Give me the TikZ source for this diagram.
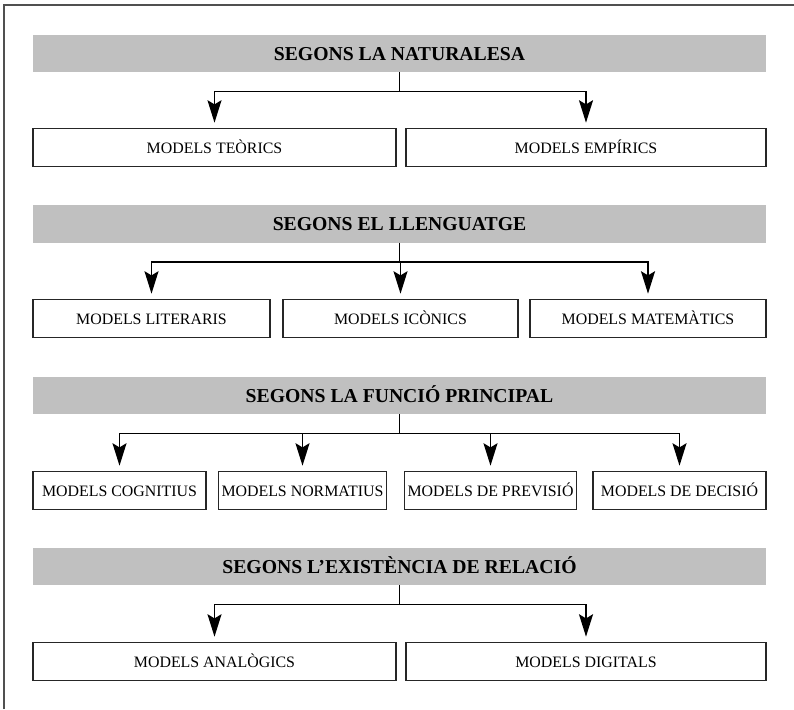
\documentclass[tikz,border=0pt]{standalone}
\usepackage{fontspec}
\setmainfont{Liberation Serif}
\usepackage{xcolor}
\usepackage{tikz}
\usetikzlibrary{arrows.meta, positioning}
\definecolor{headgray}{RGB}{192,192,192}
\definecolor{framegray}{RGB}{80,80,80}
\tikzset{
    header/.style={rectangle, fill=headgray, minimum width=18.325cm, minimum height=0.93cm, text height=1.2em, text depth=0.25em, font=\fontsize{14}{16}\selectfont\bfseries},
    model/.style={rectangle, draw=black!85, line width=0.8pt, minimum height=0.93cm, inner sep=2pt, text height=1.2em, text depth=0.3em, font=\fontsize{11.3}{13}\selectfont},
    link/.style={-{Stealth[length=16pt, width=10pt, inset=3pt]}, line width=1pt, shorten >=4pt}
}

\begin{document}
\begin{tikzpicture}[x=0.025cm, y=0.025cm]
            \useasboundingbox (0,0) rectangle (794,709);
            \draw[framegray, line width=1.4pt] (4,0) -- (4,704) -- (794,704);

            % segons la naturalesa
            \node (nat) [header] at (399.5,655.5) {SEGONS LA NATURALESA};
            \node (teo) [model, minimum width=9.075cm] at (214.5,561.5) {MODELS TEÒRICS};
            \node (emp) [model, minimum width=9cm] at (586,561.5) {MODELS EMPÍRICS};
            \draw[link] (nat.south) -- ++(0,-19) -| (teo.north);
            \draw[link] (nat.south) -- ++(0,-19) -| (emp.north);

            % segons el llenguatge
            \node (llen) [header] at (399.5,485) {SEGONS EL LLENGUATGE};
            \node (lit) [model, minimum width=5.925cm] at (151.5,390.5) {MODELS LITERARIS};
            \node (ico) [model, minimum width=5.875cm] at (400.5,390.5) {MODELS ICÒNICS};
            \node (mat) [model, minimum width=5.9cm] at (648,390.5) {MODELS MATEMÀTICS};
            \draw[link] (llen.south) -- ++(0,-19) -| (lit.north);
            \draw[link] (llen.south) -- ++(0,-19) -| (ico.north);
            \draw[link] (llen.south) -- ++(0,-19) -| (mat.north);

            % segons la funcio principal
            \node (func) [header] at (399.5,313.5) {SEGONS LA FUNCIÓ PRINCIPAL};
            \node (cog) [model, minimum width=4.325cm] at (119.5,218.5) {MODELS COGNITIUS};
            \node (nor) [model, minimum width=4.125cm] at (302.5,218.5) {MODELS NORMATIUS};
            \node (prev) [model, minimum width=4.175cm] at (490.5,218.5) {MODELS DE PREVISIÓ};
            \node (dec) [model, minimum width=4.325cm] at (679.5,218.5) {MODELS DE DECISIÓ};
            \draw[link] (func.south) -- ++(0,-19) -| (cog.north);
            \draw[link] (func.south) -- ++(0,-19) -| (nor.north);
            \draw[link] (func.south) -- ++(0,-19) -| (prev.north);
            \draw[link] (func.south) -- ++(0,-19) -| (dec.north);

            % segons l'existencia de relacio
            \node (rel) [header] at (399.5,142.5) {SEGONS L’EXISTÈNCIA DE RELACIÓ};
            \node (ana) [model, minimum width=9.075cm] at (214.5,47.5) {MODELS ANALÒGICS};
            \node (dig) [model, minimum width=9cm] at (586,47.5) {MODELS DIGITALS};
            \draw[link] (rel.south) -- ++(0,-19) -| (ana.north);
            \draw[link] (rel.south) -- ++(0,-19) -| (dig.north);
\end{tikzpicture}
\end{document}
